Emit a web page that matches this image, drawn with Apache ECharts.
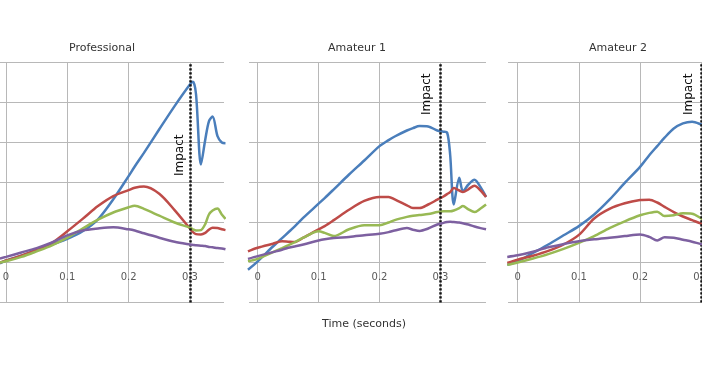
<!DOCTYPE html>
<html>
<head>
<meta charset="utf-8">
<script src="https://cdn.jsdelivr.net/npm/echarts@6/dist/echarts.min.js"></script>
<style>
html,body{margin:0;padding:0;background:#fff;}
#chart{width:702px;height:370px;}
</style>
</head>
<body>
<div id="chart"></div>
<script>
// ---- Data ----
const panelTitles = ['Professional', 'Amateur 1', 'Amateur 2'];
const seriesNames = ['Blue', 'Red', 'Green', 'Purple'];
const xTickValues = [0, 0.1, 0.2, 0.3];
const impactTime = [0.3, 0.3, 0.297];
const impactLabel = 'Impact';
const xAxisTitle = 'Time (seconds)';

// Professional
const proTime   = [-0.01, 0, 0.025, 0.05, 0.075, 0.1, 0.125, 0.15, 0.175, 0.2, 0.21, 0.225, 0.25, 0.275, 0.3, 0.305, 0.31, 0.318, 0.325, 0.331, 0.337, 0.345, 0.352, 0.358];
const proBlue   = [-0.02, 0.05, 0.17, 0.31, 0.45, 0.59, 0.78, 1.08, 1.58, 2.16, 2.40, 2.74, 3.33, 3.91, 4.45, 4.52, 4.20, 2.45, 3.07, 3.53, 3.65, 3.16, 3.00, 2.98];
const proRed    = [0.00, 0.05, 0.17, 0.32, 0.49, 0.78, 1.09, 1.41, 1.66, 1.81, 1.87, 1.90, 1.72, 1.31, 0.85, 0.76, 0.71, 0.70, 0.74, 0.82, 0.87, 0.86, 0.83, 0.81];
const proGreen  = [0.00, 0.03, 0.14, 0.28, 0.43, 0.62, 0.85, 1.07, 1.25, 1.38, 1.42, 1.34, 1.17, 1.00, 0.87, 0.83, 0.80, 0.81, 0.96, 1.20, 1.30, 1.35, 1.20, 1.09];
const proPurple = [0.10, 0.14, 0.25, 0.36, 0.50, 0.68, 0.80, 0.85, 0.88, 0.83, 0.80, 0.73, 0.62, 0.52, 0.45, 0.44, 0.43, 0.42, 0.41, 0.39, 0.38, 0.36, 0.35, 0.33];

// Amateur 1
const am1Time   = [-0.016, 0, 0.025, 0.04, 0.05, 0.06, 0.075, 0.1, 0.11, 0.125, 0.15, 0.175, 0.2, 0.215, 0.225, 0.245, 0.255, 0.266, 0.28, 0.295, 0.305, 0.311, 0.316, 0.322, 0.331, 0.337, 0.346, 0.356, 0.366, 0.375];
const am1Blue   = [-0.18, 0.03, 0.40, 0.61, 0.75, 0.89, 1.12, 1.47, 1.61, 1.83, 2.20, 2.55, 2.91, 3.06, 3.15, 3.30, 3.36, 3.41, 3.40, 3.30, 3.27, 3.25, 2.70, 1.45, 2.12, 1.78, 1.95, 2.07, 1.88, 1.64];
const am1Red    = [0.28, 0.37, 0.47, 0.53, 0.52, 0.51, 0.62, 0.83, 0.91, 1.06, 1.32, 1.54, 1.64, 1.64, 1.58, 1.43, 1.36, 1.36, 1.45, 1.57, 1.65, 1.71, 1.76, 1.86, 1.80, 1.76, 1.83, 1.92, 1.80, 1.64];
const am1Green  = [0.03, 0.09, 0.26, 0.36, 0.43, 0.50, 0.62, 0.78, 0.74, 0.66, 0.83, 0.93, 0.93, 1.00, 1.06, 1.14, 1.17, 1.19, 1.21, 1.26, 1.28, 1.28, 1.28, 1.30, 1.36, 1.41, 1.33, 1.26, 1.35, 1.45];
const am1Purple = [0.09, 0.16, 0.26, 0.32, 0.37, 0.40, 0.45, 0.55, 0.58, 0.61, 0.64, 0.68, 0.72, 0.76, 0.80, 0.86, 0.82, 0.79, 0.85, 0.95, 0.99, 1.01, 1.02, 1.01, 1.00, 0.98, 0.95, 0.90, 0.86, 0.83];

// Amateur 2
const am2Time   = [-0.017, 0, 0.025, 0.05, 0.075, 0.1, 0.125, 0.15, 0.175, 0.2, 0.215, 0.228, 0.24, 0.255, 0.27, 0.285, 0.3, 0.31];
const am2Blue   = [-0.06, 0.03, 0.24, 0.45, 0.68, 0.91, 1.20, 1.57, 1.99, 2.39, 2.68, 2.91, 3.12, 3.35, 3.48, 3.52, 3.45, 3.38];
const am2Red    = [-0.01, 0.07, 0.17, 0.29, 0.45, 0.69, 1.10, 1.34, 1.48, 1.56, 1.57, 1.50, 1.39, 1.26, 1.15, 1.06, 0.97, 0.92];
const am2Green  = [-0.06, 0.00, 0.10, 0.21, 0.34, 0.49, 0.66, 0.86, 1.03, 1.18, 1.24, 1.27, 1.16, 1.18, 1.23, 1.22, 1.10, 1.02];
const am2Purple = [0.14, 0.18, 0.27, 0.38, 0.46, 0.53, 0.58, 0.62, 0.66, 0.70, 0.64, 0.55, 0.63, 0.62, 0.57, 0.52, 0.46, 0.43];

// ---- Layout / style ----
const colors = ['#4a7ebb', '#be4b48', '#98b954', '#7d60a0'];
const gridColor = '#b8b8b8';
const font = 'DejaVu Sans, Verdana, sans-serif';
const panels = [
  {time: proTime, vals: [proBlue, proRed, proGreen, proPurple], left: 0, width: 224, xmin: -0.0098, xmax: 0.3556, titleX: 97, lblDist: [72, 4]},
  {time: am1Time, vals: [am1Blue, am1Red, am1Green, am1Purple], left: 249, width: 237, xmin: -0.0143, xmax: 0.3749, titleX: 352, lblDist: [11, 8]},
  {time: am2Time, vals: [am2Blue, am2Red, am2Green, am2Purple], left: 508, width: 237, xmin: -0.0158, xmax: 0.3714, titleX: 613, lblDist: [11, 6]}
];

const grids = [], xAxes = [], yAxes = [], series = [], titles = [];
panels.forEach((p, i) => {
  grids.push({left: p.left, top: 62.5, width: p.width, height: 240, containLabel: false, outerBoundsMode: 'none'});
  xAxes.push({
    type: 'value', gridIndex: i, min: p.xmin, max: p.xmax,
    minInterval: 0.1, maxInterval: 0.1,
    position: 'bottom', offset: -40,
    axisLine: {show: false, onZero: false},
    axisTick: {show: false},
    axisLabel: {
      show: true, margin: 10, fontSize: 10, color: '#595959', fontFamily: font,
      showMinLabel: false, showMaxLabel: false, hideOverlap: false,
      formatter: v => (xTickValues.some(t => Math.abs(t - v) < 1e-6) ? String(Math.round(v * 10) / 10) : '')
    },
    splitLine: {show: true, showMinLine: false, showMaxLine: false, lineStyle: {color: gridColor, width: 1}}
  });
  yAxes.push({
    type: 'value', gridIndex: i, min: -1, max: 5, interval: 1,
    axisLine: {show: false}, axisTick: {show: false}, axisLabel: {show: false},
    splitLine: {show: true, lineStyle: {color: gridColor, width: 1}}
  });
  titles.push({
    text: panelTitles[i], left: p.titleX, top: 38, textAlign: 'center',
    textStyle: {fontSize: 11, fontWeight: 'normal', color: '#333', fontFamily: font}
  });
  p.vals.forEach((vals, k) => {
    const s = {
      name: seriesNames[k], type: 'line', xAxisIndex: i, yAxisIndex: i,
      data: p.time.map((t, j) => [t, vals[j]]),
      smooth: 0.3, showSymbol: false, symbol: 'none',
      lineStyle: {color: colors[k], width: 2.5},
      itemStyle: {color: colors[k]},
      clip: true, animation: false, z: 2 + k
    };
    if (k === 3) {
      s.markLine = {
        silent: true, symbol: ['none', 'none'], animation: false,
        lineStyle: {color: '#111', width: 2.5, type: [2.2, 1.8]},
        label: {
          show: true, position: 'insideEndTop', formatter: impactLabel,
          distance: p.lblDist, fontSize: 12, color: '#111', fontFamily: font
        },
        data: [{xAxis: impactTime[i]}]
      };
    }
    series.push(s);
  });
});
titles.push({
  text: xAxisTitle, left: 359, top: 314, textAlign: 'center',
  textStyle: {fontSize: 11, fontWeight: 'normal', color: '#333', fontFamily: font}
});

const chart = echarts.init(document.getElementById('chart'), null, {renderer: 'canvas'});
chart.setOption({
  animation: false,
  title: titles,
  grid: grids,
  xAxis: xAxes,
  yAxis: yAxes,
  series: series
});
</script>
</body>
</html>
